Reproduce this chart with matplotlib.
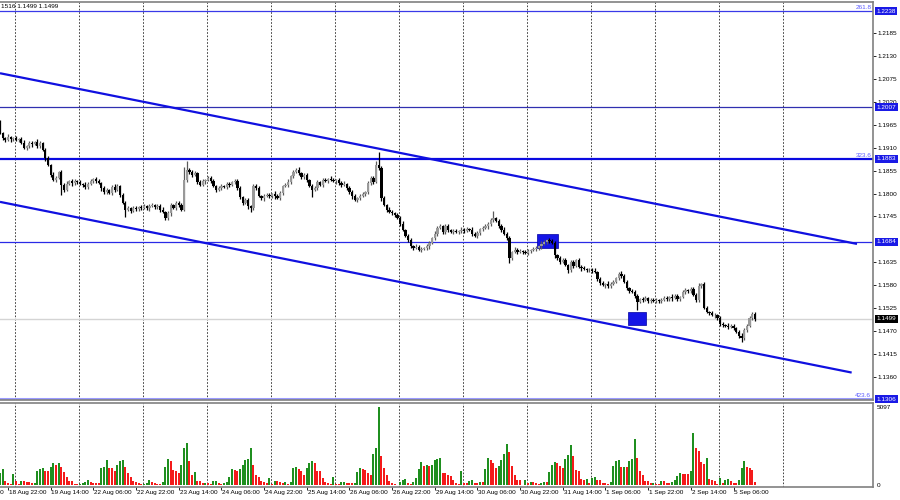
import matplotlib
matplotlib.use("Agg")
import matplotlib.pyplot as plt
import matplotlib.transforms as mtransforms
from matplotlib.patches import Rectangle
import numpy as np

plt.rcParams['font.family'] = ['Liberation Sans', 'DejaVu Sans']

# --- GBPUSD H1, 18 Aug 19:00 .. 5 Sep 14:00 (bar 0 = 18 Aug 22:00) ---
first_bar = -3
first_open = 1.1972

# closes in pips above 1.1000
close_pips = [
    945, 933, 929, 936, 931, 933, 929, 931, 922, 910,
    914, 922, 919, 924, 914, 922, 905, 885, 869, 845,
    833, 837, 852, 821, 809, 823, 830, 825, 830, 828,
    823, 821, 816, 823, 830, 835, 830, 825, 813, 804,
    809, 801, 816, 809, 818, 797, 777, 761, 765, 758,
    765, 763, 768, 765, 770, 765, 770, 773, 768, 770,
    761, 756, 741, 753, 773, 765, 777, 773, 761, 833,
    857, 852, 845, 849, 828, 821, 830, 833, 837, 830,
    818, 809, 813, 818, 816, 823, 821, 828, 830, 813,
    792, 777, 785, 770, 765, 818, 813, 794, 789, 794,
    797, 794, 799, 794, 789, 801, 818, 821, 828, 842,
    852, 857, 849, 840, 845, 833, 818, 809, 813, 828,
    821, 833, 830, 835, 833, 830, 833, 825, 821, 823,
    813, 804, 794, 785, 789, 794, 799, 804, 825, 837,
    828, 869, 862, 789, 773, 761, 756, 753, 749, 741,
    727, 713, 698, 689, 674, 669, 672, 665, 667, 669,
    674, 681, 693, 703, 717, 722, 708, 722, 713, 708,
    710, 708, 710, 713, 710, 715, 713, 703, 698, 705,
    715, 717, 722, 727, 737, 741, 734, 722, 713, 703,
    693, 645, 660, 665, 660, 662, 660, 657, 662, 665,
    667, 669, 674, 679, 684, 689, 686, 681, 652, 645,
    636, 640, 628, 616, 636, 626, 640, 624, 621, 619,
    616, 616, 614, 612, 595, 585, 580, 583, 578, 583,
    588, 597, 607, 602, 588, 573, 566, 564, 554, 540,
    547, 544, 549, 542, 544, 542, 544, 542, 544, 549,
    547, 552, 549, 554, 547, 552, 564, 568, 566, 571,
    556, 544, 578, 583, 525, 516, 513, 508, 508, 501,
    487, 484, 482, 480, 482, 477, 468, 458, 453, 472,
    482, 501, 511, 499,
]

upper_wick = [
    5, 4, 3, 6, 3, 4, 5, 3, 4, 6,
    3, 5, 4, 3, 6, 4, 3, 5, 4, 3,
    6, 4, 3, 5, 4, 7, 3, 4, 5, 3,
    4, 3, 6, 4, 5, 3, 4, 6, 3, 5,
    4, 3, 5, 6, 4, 3, 5, 4, 6, 3,
    4, 5, 3, 4, 6, 3, 5, 4, 3, 5,
    4, 6, 3, 5, 4, 3, 6, 4, 5, 30,
    21, 5, 4, 6, 3, 5, 4, 3, 6, 4,
    5, 3, 4, 6, 3, 5, 4, 3, 5, 4,
    6, 3, 4, 5, 3, 6, 4, 5, 3, 4,
    5, 4, 3, 6, 4, 5, 3, 4, 6, 3,
    5, 4, 6, 3, 5, 4, 3, 6, 4, 5,
    3, 4, 5, 3, 6, 4, 3, 5, 4, 6,
    3, 5, 4, 6, 3, 4, 5, 3, 6, 4,
    5, 8, 31, 4, 5, 3, 6, 4, 3, 5,
    4, 6, 3, 5, 4, 3, 6, 4, 5, 3,
    4, 5, 3, 6, 4, 5, 3, 4, 6, 3,
    5, 4, 3, 6, 4, 5, 3, 6, 4, 5,
    3, 4, 6, 5, 4, 18, 3, 5, 4, 6,
    5, 4, 3, 6, 4, 5, 3, 4, 6, 3,
    4, 5, 3, 6, 4, 3, 5, 4, 6, 3,
    5, 4, 6, 3, 5, 4, 3, 6, 4, 5,
    3, 5, 4, 6, 3, 4, 5, 3, 6, 4,
    5, 3, 4, 6, 4, 5, 3, 4, 5, 4,
    3, 5, 4, 3, 6, 4, 5, 3, 4, 5,
    4, 3, 6, 4, 5, 3, 4, 6, 3, 5,
    4, 5, 6, 3, 4, 5, 3, 6, 4, 3,
    5, 4, 3, 6, 4, 5, 3, 4, 6, 5,
    4, 6, 5, 4,
]

lower_wick = [
    3, 5, 4, 3, 6, 4, 3, 5, 4, 3,
    5, 4, 6, 3, 4, 5, 3, 6, 4, 5,
    4, 6, 3, 25, 5, 4, 3, 6, 4, 5,
    3, 5, 4, 6, 3, 4, 5, 3, 6, 4,
    5, 3, 4, 6, 4, 5, 3, 17, 4, 5,
    3, 6, 4, 5, 3, 4, 6, 3, 5, 4,
    6, 3, 5, 4, 6, 3, 4, 5, 3, 4,
    5, 4, 6, 3, 5, 4, 3, 6, 4, 5,
    3, 6, 4, 5, 3, 4, 6, 3, 5, 4,
    4, 5, 3, 6, 9, 4, 5, 3, 4, 6,
    3, 5, 4, 6, 3, 4, 5, 3, 6, 4,
    5, 3, 4, 6, 4, 5, 3, 17, 4, 5,
    4, 6, 3, 5, 4, 3, 6, 4, 5, 3,
    5, 4, 6, 3, 5, 4, 3, 6, 4, 5,
    4, 3, 5, 6, 4, 5, 3, 4, 6, 3,
    5, 4, 3, 6, 4, 5, 3, 4, 6, 3,
    4, 6, 3, 5, 4, 3, 6, 4, 5, 3,
    5, 3, 6, 4, 5, 3, 4, 6, 3, 5,
    4, 5, 3, 6, 4, 5, 3, 4, 6, 3,
    5, 12, 4, 3, 6, 4, 5, 3, 4, 6,
    3, 5, 4, 6, 3, 4, 5, 3, 6, 4,
    5, 4, 3, 6, 4, 5, 3, 4, 6, 3,
    4, 5, 6, 3, 4, 5, 3, 6, 4, 5,
    3, 4, 5, 6, 3, 4, 5, 3, 6, 20,
    4, 5, 3, 6, 4, 3, 5, 4, 6, 3,
    5, 4, 6, 3, 5, 4, 3, 6, 4, 5,
    3, 5, 4, 6, 3, 4, 5, 3, 6, 4,
    5, 4, 3, 6, 4, 5, 3, 4, 9, 5,
    4, 3, 5, 4,
]

volume = [
    767, 1029, 263, 110, 66, 701, 285, 88, 285, 263,
    197, 175, 110, 131, 920, 1051, 1095, 942, 942, 1161,
    1424, 1314, 1424, 1161, 854, 548, 285, 263, 88, 44,
    88, 153, 219, 329, 197, 110, 110, 110, 1095, 1205,
    1643, 1095, 1095, 942, 1314, 1577, 1621, 1161, 767, 504,
    285, 197, 110, 44, 88, 153, 329, 197, 153, 88,
    66, 219, 1161, 1686, 1599, 986, 942, 810, 1292, 2453,
    2738, 1577, 635, 832, 241, 241, 110, 131, 110, 66,
    241, 250, 110, 44, 131, 197, 526, 1029, 986, 942,
    1029, 1292, 1643, 1708, 2409, 1292, 657, 504, 285, 175,
    110, 460, 44, 241, 241, 175, 153, 197, 88, 175,
    1095, 1161, 1051, 942, 657, 1095, 1467, 1555, 1424, 898,
    898, 482, 197, 110, 88, 504, 66, 44, 175, 190,
    131, 131, 110, 131, 876, 1095, 1029, 986, 810, 657,
    2037, 2409, 5097, 1905, 1095, 657, 263, 131, 66, 20,
    219, 329, 372, 110, 66, 219, 438, 1029, 1489, 1248,
    1292, 1248, 1292, 1621, 1686, 1774, 810, 767, 679,
    591, 329, 153, 66, 942, 110, 110, 241, 329, 153,
    110, 197, 175, 1029, 1752, 1643, 1467, 1095, 1248, 1643,
    2037, 2672, 2190, 1248, 657, 329, 329, 22, 329, 110,
    197, 197, 110, 88, 153, 197, 197, 876, 1292, 1511,
    1467, 1248, 1095, 1686, 1971, 2606, 1905, 986, 898, 372,
    329, 416, 110, 460, 504, 329, 329, 153, 153, 88,
    219, 1248, 1577, 1643, 1183, 1205, 1205, 1577, 1730, 3044,
    1752, 942, 657, 285, 263, 110, 153, 88, 44, 241,
    241, 110, 110, 197, 329, 613, 810, 723, 723, 723,
    942, 3395, 2409, 2234, 1533, 1380, 1752, 372, 329, 263,
    88, 438, 153, 329, 372, 263, 153, 153, 329, 1095,
    1577, 1205, 1117, 986, 175,
]

# time axis labels (bar index, text)
tick_bars = [-16, 0, 16, 32, 48, 64, 80, 96, 112, 128, 144, 160, 176,
             192, 208, 224, 240, 256, 272]
tick_labels = ["18 Aug 06:00", "18 Aug 22:00", "19 Aug 14:00", "22 Aug 06:00",
               "22 Aug 22:00", "23 Aug 14:00", "24 Aug 06:00", "24 Aug 22:00",
               "25 Aug 14:00", "26 Aug 06:00", "26 Aug 22:00", "29 Aug 14:00",
               "30 Aug 06:00", "30 Aug 22:00", "31 Aug 14:00", "1 Sep 06:00",
               "1 Sep 22:00", "2 Sep 14:00", "5 Sep 06:00"]
day_start_bars = [2, 26, 50, 74, 98, 122, 146, 170, 194, 218, 242, 266, 290]

# drawn objects
price_ticks = [1.1360, 1.1415, 1.1470, 1.1525, 1.1580, 1.1635, 1.1745,
               1.1800, 1.1855, 1.1910, 1.1965, 1.2020, 1.2075, 1.2130, 1.2185]
levels = [1.2238, 1.2007, 1.1883, 1.1684, 1.1306]
fibo_text = {1.2238: "261.8", 1.1883: "323.6", 1.1306: "423.6"}
bid = 1.1499
channel_upper = [(-3.0, 1.2089), (318.3, 1.1679)]
channel_lower = [(-3.0, 1.1780), (316.3, 1.1370)]
boxes = [(198.4, 206.2, 1.1669, 1.1703), (232.5, 239.2, 1.1484, 1.1515)]

# --- derived candle values ---
closes = 1.1 + np.array(close_pips) / 10000
opens = np.r_[first_open, closes[:-1]]
highs = np.maximum(opens, closes) + np.array(upper_wick) / 10000
lows = np.minimum(opens, closes) - np.array(lower_wick) / 10000
bars = np.arange(first_bar, first_bar + len(closes))
bull = closes >= opens
vol = np.array(volume)
vol_up = np.r_[True, vol[1:] > vol[:-1]]

fig = plt.figure(figsize=(9, 5), dpi=100)
ax = fig.add_axes([0.0, 0.2, 0.97, 0.796])
axv = fig.add_axes([0.0, 0.026, 0.97, 0.168])

xlim = (-3.0, 324.3)
for a in (ax, axv):
    a.set_facecolor("white")
    for s in ("top", "right", "bottom"):
        a.spines[s].set_color("#808080")
        a.spines[s].set_linewidth(1.2)
    a.spines["left"].set_visible(False)
    for d in day_start_bars:
        a.axvline(d + 0.5, color="#222222", lw=0.6, ls=(0, (2, 2)), zorder=1)

ax.set_ylim(1.13041, 1.22601)
ax.set_xticks([])
ax.yaxis.tick_right()
ax.set_yticks(price_ticks)
ax.set_yticklabels([f"{p:.4f}" for p in price_ticks])
ax.tick_params(axis="y", length=2, width=0.6, pad=1, labelsize=4.6,
               colors="#000000")

# levels
level_style = {
    1.2238: dict(color="#3a3ae8", lw=0.9),
    1.2007: dict(color="#3030b0", lw=0.9),
    1.1883: dict(color="#0a0ae0", lw=1.6),
    1.1684: dict(color="#2a2ae6", lw=0.9),
    1.1306: dict(color="#9a9aff", lw=2.2),
}
for lv in levels:
    ax.axhline(lv, zorder=2, **level_style[lv])
ax.axhline(bid, color="#d4d4d4", lw=1.0, zorder=2)

ytr = mtransforms.blended_transform_factory(ax.transAxes, ax.transData)
for lv, txt in fibo_text.items():
    ax.text(0.998, lv + 0.0002, txt, transform=ytr, ha="right", va="bottom",
            fontsize=4.6, color="#5a5aff", zorder=4)

# channel
for ln in (channel_upper, channel_lower):
    ax.plot([ln[0][0], ln[1][0]], [ln[0][1], ln[1][1]], color="#1010e0",
            lw=1.6, zorder=3, solid_capstyle="butt")

# boxes
for x0, x1, y0, y1 in boxes:
    ax.add_patch(Rectangle((x0, y0), x1 - x0, y1 - y0, facecolor="#1515e6",
                           edgecolor="#0000a0", lw=0.5, zorder=4))

# candles
wick_col = np.where(bull, "#5a5a5a", "#000000")
ax.vlines(bars, lows, highs, colors=wick_col, lw=0.9, zorder=5)
body_h = np.maximum(np.abs(closes - opens), 0.00008)
body_b = np.minimum(opens, closes)
ax.bar(bars[bull], body_h[bull], bottom=body_b[bull], width=0.85,
       color="#999999", lw=0, zorder=6)
ax.bar(bars[~bull], body_h[~bull], bottom=body_b[~bull], width=0.85,
       color="#000000", lw=0, zorder=6)

# price boxes on the right scale
for lv in levels:
    ax.text(1.004, lv, f"{lv:.4f}", transform=ytr, ha="left", va="center",
            fontsize=4.6, color="white", zorder=10, clip_on=False,
            bbox=dict(boxstyle="square,pad=0.25", fc="#1a1ae6", ec="none"))
ax.text(1.004, bid, f"{bid:.4f}", transform=ytr, ha="left", va="center",
        fontsize=4.6, color="white", zorder=10, clip_on=False,
        bbox=dict(boxstyle="square,pad=0.25", fc="#000000", ec="none"))

# volumes
axv.bar(bars, vol, width=0.75, lw=0,
        color=np.where(vol_up, "#1f8f1f", "#f41a1a"), zorder=3)
axv.set_yticks([])
vtr = mtransforms.blended_transform_factory(axv.transAxes, axv.transData)
axv.text(1.004, vol.max(), f"{vol.max()}", transform=vtr, ha="left",
         va="center", fontsize=4.6, clip_on=False)
axv.text(1.004, 0, "0", transform=vtr, ha="left", va="center",
         fontsize=4.6, clip_on=False)

axv.set_xticks(tick_bars)
axv.set_xticklabels([])
axv.tick_params(axis="x", length=2, width=0.6, colors="#000000")
xtr = mtransforms.blended_transform_factory(axv.transData, axv.transAxes)
for b, lab in zip(tick_bars, tick_labels):
    axv.text(b + 0.3, -0.07, lab, transform=xtr, ha="left", va="center",
             fontsize=4.6, clip_on=False)

# limits last, so the ticks cannot widen them
ax.set_xlim(*xlim)
axv.set_xlim(*xlim)
axv.set_ylim(-131, 5378)

fig.text(0.001, 1 - 6.5 / 500, "1516 1.1499 1.1499", ha="left", va="center",
         fontsize=4.6, color="#000000")

fig.savefig("out.png", dpi=100, facecolor="white")
